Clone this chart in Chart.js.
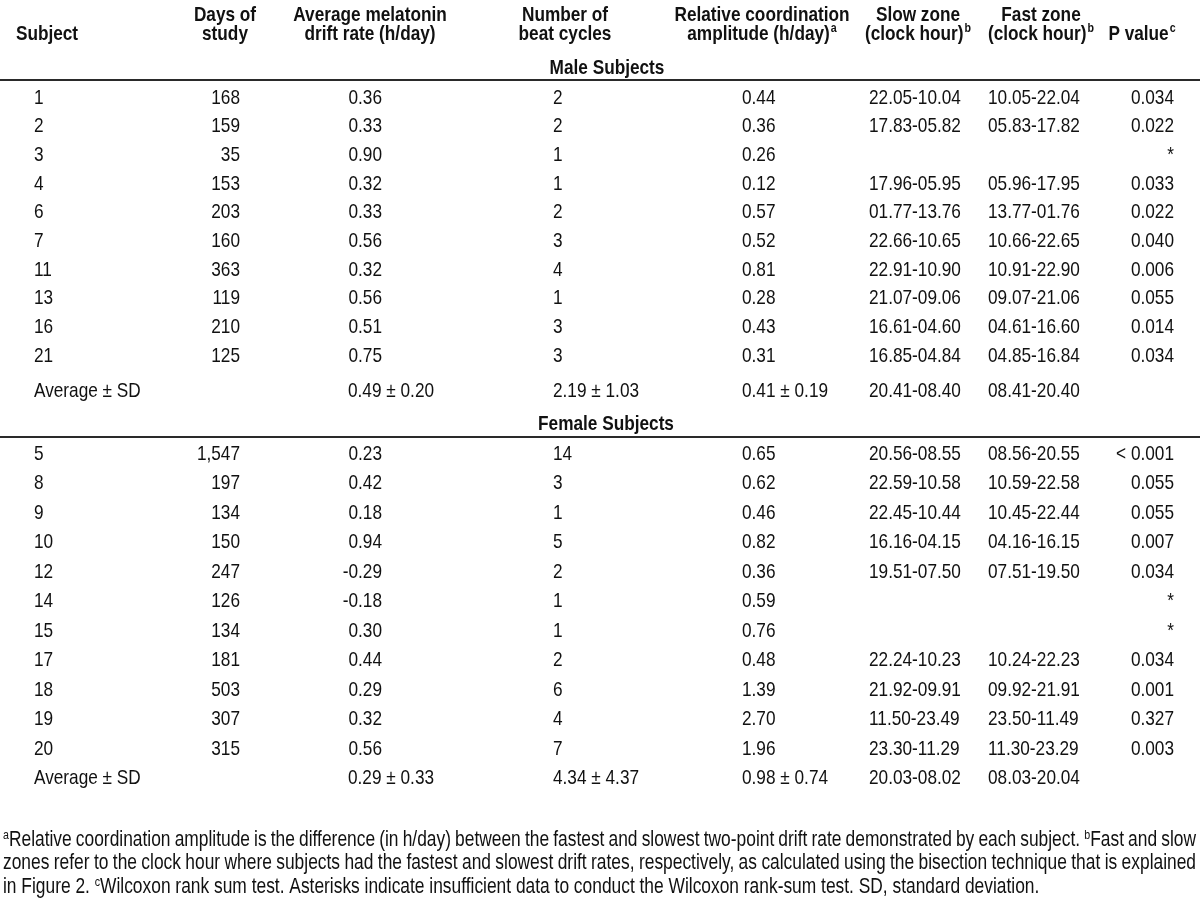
<!DOCTYPE html>
<html>
<head>
<meta charset="utf-8">
<script src="https://cdn.jsdelivr.net/npm/chart.js@4.4.1/dist/chart.umd.min.js"></script>
<style>
  html, body { margin: 0; padding: 0; background: #fff; }
  #wrap { width: 1200px; height: 898px; }
</style>
</head>
<body>
<div id="wrap"><canvas id="tbl" width="1200" height="898"></canvas></div>
<script>
// ---- table data ----
const headLine1 = ["", "Days of", "Average melatonin", "Number of", "Relative coordination", "Slow zone", "Fast zone", ""];
const headLine2 = ["Subject", "study", "drift rate (h/day)", "beat cycles", "amplitude (h/day)", "(clock hour)", "(clock hour)", "P value"];
const headSup = ["", "", "", "", "a", "b", "b", "c"];

const maleSubjects = ["1", "2", "3", "4", "6", "7", "11", "13", "16", "21"];
const maleDays = [168, 159, 35, 153, 203, 160, 363, 119, 210, 125];
const maleDrift = [0.36, 0.33, 0.90, 0.32, 0.33, 0.56, 0.32, 0.56, 0.51, 0.75];
const maleBeats = [2, 2, 1, 1, 2, 3, 4, 1, 3, 3];
const maleAmp = [0.44, 0.36, 0.26, 0.12, 0.57, 0.52, 0.81, 0.28, 0.43, 0.31];
const maleSlow = ["22.05-10.04", "17.83-05.82", "", "17.96-05.95", "01.77-13.76", "22.66-10.65", "22.91-10.90", "21.07-09.06", "16.61-04.60", "16.85-04.84"];
const maleFast = ["10.05-22.04", "05.83-17.82", "", "05.96-17.95", "13.77-01.76", "10.66-22.65", "10.91-22.90", "09.07-21.06", "04.61-16.60", "04.85-16.84"];
const maleP = ["0.034", "0.022", "*", "0.033", "0.022", "0.040", "0.006", "0.055", "0.014", "0.034"];
const maleAvg = ["Average ± SD", "", "0.49 ± 0.20", "2.19 ± 1.03", "0.41 ± 0.19", "20.41-08.40", "08.41-20.40", ""];

const femaleSubjects = ["5", "8", "9", "10", "12", "14", "15", "17", "18", "19", "20"];
const femaleDays = [1547, 197, 134, 150, 247, 126, 134, 181, 503, 307, 315];
const femaleDrift = [0.23, 0.42, 0.18, 0.94, -0.29, -0.18, 0.30, 0.44, 0.29, 0.32, 0.56];
const femaleBeats = [14, 3, 1, 5, 2, 1, 1, 2, 6, 4, 7];
const femaleAmp = [0.65, 0.62, 0.46, 0.82, 0.36, 0.59, 0.76, 0.48, 1.39, 2.70, 1.96];
const femaleSlow = ["20.56-08.55", "22.59-10.58", "22.45-10.44", "16.16-04.15", "19.51-07.50", "", "", "22.24-10.23", "21.92-09.91", "11.50-23.49", "23.30-11.29"];
const femaleFast = ["08.56-20.55", "10.59-22.58", "10.45-22.44", "04.16-16.15", "07.51-19.50", "", "", "10.24-22.23", "09.92-21.91", "23.50-11.49", "11.30-23.29"];
const femaleP = ["< 0.001", "0.055", "0.055", "0.007", "0.034", "*", "*", "0.034", "0.001", "0.327", "0.003"];
const femaleAvg = ["Average ± SD", "", "0.29 ± 0.33", "4.34 ± 4.37", "0.98 ± 0.74", "20.03-08.02", "08.03-20.04", ""];

const footnotes = [
  "^aRelative coordination amplitude is the difference (in h/day) between the fastest and slowest two-point drift rate demonstrated by each subject. ^bFast and slow",
  "zones refer to the clock hour where subjects had the fastest and slowest drift rates, respectively, as calculated using the bisection technique that is explained",
  "in Figure 2. ^cWilcoxon rank sum test. Asterisks indicate insufficient data to conduct the Wilcoxon rank-sum test. SD, standard deviation."
];

// ---- layout ----
const INK = "#111";
const FS = 21;
const FOOT_FS = 21.2;
const headCenters = [47, 225, 370, 565, 762, 918, 1041, 1142];
// column anchors: [x, align] for body rows, and for average rows
const colAnchor = [[34, "left"], [240, "right"], [382, "right"], [553, "left"], [742, "left"], [869, "left"], [988, "left"], [1174, "right"]];
const avgAnchor = [[34, "left"], [240, "right"], [348, "left"], [553, "left"], [742, "left"], [869, "left"], [988, "left"], [1174, "right"]];
const maleTop = 96, maleStep = 28.7, maleAvgY = 389;
const femaleTop = 452, femaleStep = 29.5, femaleAvgY = 776;

// narrow font check
const probe = document.createElement("canvas").getContext("2d");
probe.font = '20px "Liberation Sans Narrow", monospace';
const wNarrow = probe.measureText("Average SD mmm").width;
probe.font = "20px monospace";
const wMono = probe.measureText("Average SD mmm").width;
const hasNarrow = Math.abs(wNarrow - wMono) > 0.5;
const FAMILY = hasNarrow ? '"Liberation Sans Narrow", "Liberation Sans", sans-serif' : '"Liberation Sans", Arial, sans-serif';
const SX = hasNarrow ? 1 : 0.82;

function setFont(ctx, bold, size) {
  ctx.font = (bold ? "bold " : "") + size + "px " + FAMILY;
}
function tw(ctx, s) {
  return ctx.measureText(s).width * SX;
}
function put(ctx, s, x, y, align) {
  ctx.save();
  ctx.translate(x, y);
  ctx.scale(SX, 1);
  ctx.textAlign = align;
  ctx.textBaseline = "alphabetic";
  ctx.fillText(s, 0, 0);
  ctx.restore();
}

function fmt2(v) { return v.toFixed(2); }

function sectionRows(subj, days, drift, beats, amp, slow, fast, p) {
  return subj.map((s, i) => [s, days[i].toLocaleString("en-US"), fmt2(drift[i]), String(beats[i]), fmt2(amp[i]), slow[i], fast[i], p[i]]);
}
const maleRows = sectionRows(maleSubjects, maleDays, maleDrift, maleBeats, maleAmp, maleSlow, maleFast, maleP);
const femaleRows = sectionRows(femaleSubjects, femaleDays, femaleDrift, femaleBeats, femaleAmp, femaleSlow, femaleFast, femaleP);

// one scatter dataset per column per section; text stays attached to each point
const datasets = [];
function addCells(rows, avg, top, step, avgY) {
  for (let c = 0; c < 8; c++) {
    const pts = rows.map((r, i) => ({ x: colAnchor[c][0], y: top + i * step + 7.5, text: r[c], align: colAnchor[c][1] }));
    pts.push({ x: avgAnchor[c][0], y: avgY + 7.5, text: avg[c], align: avgAnchor[c][1] });
    datasets.push({ type: "scatter", data: pts, pointRadius: 0, cell: true });
  }
}
addCells(maleRows, maleAvg, maleTop, maleStep, maleAvgY);
addCells(femaleRows, femaleAvg, femaleTop, femaleStep, femaleAvgY);

// header cells (centered, optional superscript)
datasets.push({ type: "scatter", pointRadius: 0, head: true,
  data: headCenters.map((x, i) => ({ x: x, y: 21, text: headLine1[i], sup: "" })) });
datasets.push({ type: "scatter", pointRadius: 0, head: true,
  data: headCenters.map((x, i) => ({ x: x, y: 40, text: headLine2[i], sup: headSup[i] })) });
datasets.push({ type: "scatter", pointRadius: 0, head: true,
  data: [{ x: 607, y: 74, text: "Male Subjects", sup: "" }, { x: 606, y: 430, text: "Female Subjects", sup: "" }] });

// rules under the section titles
[80, 437].forEach(y => {
  datasets.push({ type: "scatter", showLine: true, pointRadius: 0, borderColor: "#2a2a2a", borderWidth: 2,
    data: [{ x: 0, y: y }, { x: 1200, y: y }] });
});

// footnote lines
datasets.push({ type: "scatter", pointRadius: 0, foot: true,
  data: footnotes.map((t, i) => ({ x: 3, y: 845.5 + i * 23.5, text: t, justify: i < 2 })) });

const tablePlugin = {
  id: "tableText",
  afterDatasetsDraw(chart) {
    const ctx = chart.ctx;
    ctx.fillStyle = INK;
    chart.data.datasets.forEach((ds, di) => {
      const meta = chart.getDatasetMeta(di);
      if (ds.cell) {
        setFont(ctx, false, FS);
        meta.data.forEach((el, i) => {
          const d = ds.data[i];
          if (d.text) put(ctx, d.text, el.x, el.y, d.align);
        });
      } else if (ds.head) {
        meta.data.forEach((el, i) => {
          const d = ds.data[i];
          if (!d.text) return;
          setFont(ctx, true, FS);
          const w = tw(ctx, d.text);
          setFont(ctx, true, 13);
          const ws = d.sup ? tw(ctx, d.sup) + 1 : 0;
          const x0 = el.x - (w + ws) / 2;
          setFont(ctx, true, FS);
          put(ctx, d.text, x0, el.y, "left");
          if (d.sup) {
            setFont(ctx, true, 13);
            put(ctx, d.sup, x0 + w + 1, el.y - 8, "left");
          }
        });
      } else if (ds.foot) {
        meta.data.forEach((el, i) => {
          const d = ds.data[i];
          const words = d.text.split(" ").map(wd => {
            let sup = "", body = wd;
            if (wd[0] === "^") { sup = wd[1]; body = wd.slice(2); }
            setFont(ctx, false, 13);
            const sw = sup ? tw(ctx, sup) : 0;
            setFont(ctx, false, FOOT_FS);
            return { sup, body, sw, w: sw + tw(ctx, body) };
          });
          setFont(ctx, false, FOOT_FS);
          const space = tw(ctx, " ");
          let gap = space;
          if (d.justify) {
            const total = words.reduce((a, b) => a + b.w, 0);
            gap = Math.max(2, (1196 - el.x - total) / (words.length - 1));
          }
          let x = el.x;
          words.forEach(wd => {
            if (wd.sup) {
              setFont(ctx, false, 13);
              put(ctx, wd.sup, x, el.y - 7, "left");
            }
            setFont(ctx, false, FOOT_FS);
            put(ctx, wd.body, x + wd.sw, el.y, "left");
            x += wd.w + gap;
          });
        });
      }
    });
  }
};

new Chart(document.getElementById("tbl"), {
  data: { datasets: datasets },
  options: {
    responsive: false,
    animation: false,
    events: [],
    layout: { padding: 0 },
    plugins: { legend: { display: false }, tooltip: { enabled: false } },
    scales: {
      x: { type: "linear", min: 0, max: 1200, display: false },
      y: { type: "linear", min: 0, max: 898, reverse: true, display: false }
    }
  },
  plugins: [tablePlugin]
});
</script>
</body>
</html>
